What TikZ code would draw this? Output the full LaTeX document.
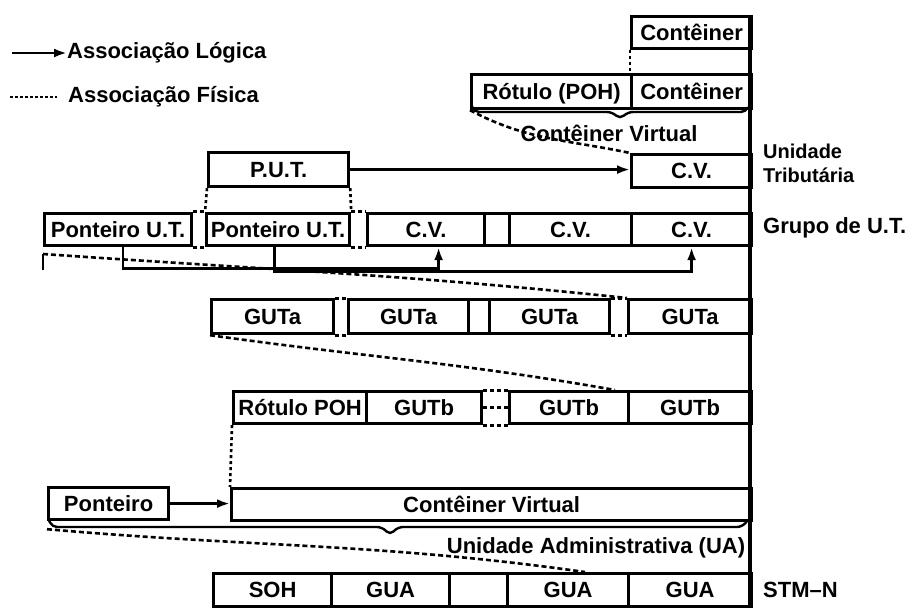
\documentclass[tikz,border=0pt]{standalone}
\usepackage{fontspec}
\setmainfont{Liberation Sans}
\usetikzlibrary{arrows.meta}
\begin{document}
\begin{tikzpicture}[x=1pt,y=-1pt,
 txt/.style={font=\bfseries\fontsize{22}{25}\selectfont},
 cell/.style={draw, line width=3.2pt, inner sep=0pt, anchor=north west, txt, text height=17pt, text depth=1.5pt},
 box/.style 2 args={cell, minimum width=#1, minimum height=#2},
 lbl/.style={inner sep=0pt, txt},
 logic/.style={line width=2.6pt, -{Latex[length=13pt,width=9pt]}},
 phys/.style={line width=2.6pt, dash pattern=on 5pt off 3pt},
 gapline/.style={line width=3pt, dash pattern=on 4pt off 3pt},
 brace/.style={line width=2.4pt, rounded corners=5pt},
 rule/.style={line width=3.2pt},
]
\fill[white] (0,0) rectangle (912,612);
\useasboundingbox (0,0) rectangle (912,612);

% legend
\node[lbl, anchor=west] (lg1) at (67,53) {Associação Lógica};
\node[lbl, anchor=west] (lg2) at (68,97) {Associação Física};
\coordinate (la) at (12,53);
\coordinate (lb) at (10,97);
\coordinate (lc) at (57,97);
\draw[logic] (la) -- (lg1.west);
\draw[phys, dash pattern=on 3pt off 2pt] (lb) -- (lc);

% right rule
\coordinate (rtop) at (750,15);
\coordinate (rbot) at (750,607);
\draw[rule] (rtop) -- (rbot);

% containers
\node[box={120pt}{32pt}] (cont1) at (630,15) {Contêiner};
\node[box={160pt}{34pt}] (rot) at (470,73) {Rótulo (POH)};
\node[box={120pt}{34pt}] (cont2) at (630,73) {Contêiner};
\draw[phys, dash pattern=on 3pt off 3pt] (cont1.south west) -- (cont2.north west);
\draw[brace] (472,106) -- (474,112) -- (612,112) -- (620,119) -- (628,112) -- (746,112) -- (748,107);
\node[lbl] (cvlab) at (609,133) {Contêiner Virtual};

% tributary unit
\node[box={140pt}{34pt}] (put) at (207,151) {P.U.T.};
\node[box={120pt}{33pt}] (cvut) at (630,153) {C.V.};
\draw[phys] (rot.south west) to[out=-28,in=168] (cvut.north west);
\draw[logic] (put.east) -- (put.east -| cvut.west);
\node[lbl, anchor=north west, align=left, font=\bfseries\fontsize{20}{24}\selectfont] (utlab) at (763,144) {Unidade\\Tributária};

% TU group row
\node[box={147pt}{32pt}] (pt1) at (43,212) {Ponteiro U.T.};
\node[box={143pt}{32pt}] (pt2) at (205,212) {Ponteiro U.T.};
\node[box={117pt}{32pt}] (cv1) at (366,212) {C.V.};
\node[box={25pt}{32pt}] (e1) at (483,212) {};
\node[box={122pt}{32pt}] (cv2) at (508,212) {C.V.};
\node[box={120pt}{32pt}] (cv3) at (630,212) {C.V.};
\draw[gapline] (pt1.north east) -- (pt2.north west);
\draw[gapline] (pt1.south east) -- (pt2.south west);
\draw[gapline] (pt2.north east) -- (cv1.north west);
\draw[gapline] (pt2.south east) -- (cv1.south west);
\draw[phys, dash pattern=on 3pt off 3pt] (put.south west) -- (pt2.north west);
\draw[phys, dash pattern=on 3pt off 3pt] (put.south east) -- (pt2.north east);
\node[lbl, anchor=west] (gulab) at (763,228) {Grupo de U.T.};

% pointers to C.V.
\draw[logic] ([xshift=5pt]pt1.south) -- ++(0,21) -| ([xshift=12.5pt]cv1.south);
\draw[logic] ([xshift=-3.5pt]pt2.south) -- ++(0,24) -| (cv3.south);

% GUTa row
\node[box={122pt}{34pt}] (ga1) at (210,298) {GUTa};
\node[box={120pt}{34pt}] (ga2) at (347,298) {GUTa};
\node[box={21pt}{34pt}] (e2) at (467,298) {};
\node[box={120pt}{34pt}] (ga3) at (488,298) {GUTa};
\node[box={123pt}{34pt}] (ga4) at (627,298) {GUTa};
\draw[gapline] (ga1.north east) -- (ga2.north west);
\draw[gapline] (ga1.south east) -- (ga2.south west);
\draw[gapline] (ga3.north east) -- (ga4.north west);
\draw[gapline] (ga3.south east) -- (ga4.south west);
\coordinate (tkb) at (43,270);
\coordinate (tkt) at (43,254);
\draw[line width=2.6pt] (tkb) -- (tkt);
\draw[phys] (tkt) to[out=-4,in=174] (ga4.north west);

% GUTb row
\node[box={133pt}{32pt}] (rp) at (232,390) {Rótulo POH};
\node[box={115pt}{32pt}] (gb1) at (365,390) {GUTb};
\node[box={119pt}{32pt}] (gb2) at (508,390) {GUTb};
\node[box={123pt}{32pt}] (gb3) at (627,390) {GUTb};
\draw[gapline] (gb1.north east) -- (gb2.north west);
\draw[gapline] (gb1.south east) -- (gb2.south west);
\draw[gapline] (gb1.east) -- (gb2.west);
\draw[phys] (ga1.south west) to[out=-8,in=170] ([xshift=-12pt]gb3.north west);

% administrative unit
\node[box={520pt}{32pt}] (cvirt) at (230,487) {Contêiner Virtual};
\node[box={120pt}{32pt}] (pont) at (47,486) {Ponteiro};
\draw[phys, dash pattern=on 3pt off 3pt] (rp.south west) -- (cvirt.north west);
\draw[logic] (pont.east) -- (pont.east -| cvirt.west);
\draw[brace] (48,518) -- (52,527) -- (382,527) -- (390,535) -- (398,527) -- (742,527) -- (748,520);
\node[lbl] (ualab) at (596,548) {Unidade Administrativa (UA)};

% STM-N row
\node[box={118pt}{33pt}] (soh) at (212,572) {SOH};
\node[box={118pt}{33pt}] (gua1) at (330,572) {GUA};
\node[box={58pt}{33pt}] (e3) at (448,572) {};
\node[box={121pt}{33pt}] (gua2) at (506,572) {GUA};
\node[box={123pt}{33pt}] (gua3) at (627,572) {GUA};
\draw[phys] ([yshift=-8pt]pont.south west) to[out=-5,in=172] ([xshift=-42pt]gua3.north west);
\node[lbl, anchor=west] (stmlab) at (763,590) {STM–N};
\end{tikzpicture}
\end{document}
